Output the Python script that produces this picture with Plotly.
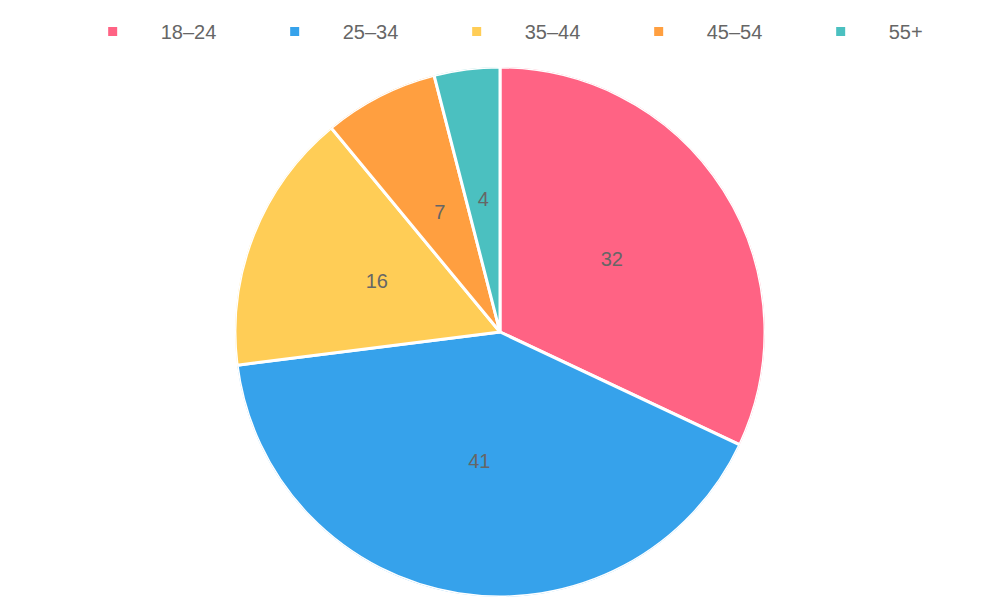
import plotly.graph_objects as go

labels = ["18–24", "25–34", "35–44", "45–54", "55+"]
values = [32, 41, 16, 7, 4]
colors = ["#ff6384", "#36a2eb", "#ffcd56", "#ff9f40", "#4bc0c0"]

# slice angles clockwise from the top, derived from the values
total = sum(values)
mid_angles = []
spans = []
run = 0
for v in values:
    spans.append(v / total * 360)
    mid_angles.append((run + v / 2) / total * 360)
    run += v

fig = go.Figure()
for lab, v, c, th, w in zip(labels, values, colors, mid_angles, spans):
    fig.add_trace(go.Barpolar(
        name=lab,
        r=[1],
        theta=[th],
        width=[w],
        marker=dict(color=c, line=dict(color="white", width=3)),
        hovertemplate=lab + ": " + str(v) + "<extra></extra>",
    ))

# value labels at half radius, like chart.js datalabels
fig.add_trace(go.Scatterpolar(
    r=[0.5] * len(values),
    theta=mid_angles,
    mode="text",
    text=[str(v) for v in values],
    textfont=dict(family="Liberation Sans, Arial, sans-serif", size=20, color="#666666"),
    showlegend=False,
    hoverinfo="skip",
))

fig.update_layout(
    width=1000,
    height=600,
    margin=dict(l=0, r=16, t=59, b=11),
    paper_bgcolor="white",
    font=dict(family="Liberation Sans, Arial, sans-serif", size=20, color="#666666"),
    barmode="overlay",
    polar=dict(
        domain=dict(x=[0, 1], y=[0, 1]),
        bgcolor="rgba(0,0,0,0)",
        hole=0,
        radialaxis=dict(range=[0, 1], visible=False, showgrid=False),
        angularaxis=dict(rotation=90, direction="clockwise", visible=False, showgrid=False),
    ),
    legend=dict(
        orientation="h",
        x=0.52,
        xanchor="center",
        y=1.104,
        yanchor="top",
        font=dict(size=20, color="#666666"),
        itemwidth=86,
        entrywidth=81,
    ),
)

fig.write_html("out.html")
